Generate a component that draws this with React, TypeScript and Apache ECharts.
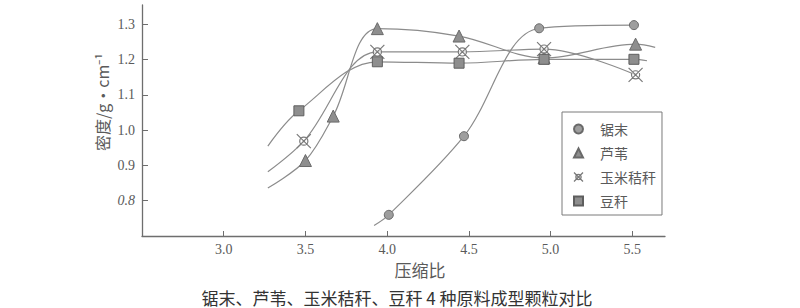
import React, { useEffect, useRef } from "react";
import * as echarts from "echarts";

// Density of pellets vs. compression ratio for four raw materials.
// Each series: [compression ratio, density]; the first/last entries of some
// series are curve ends without a marker.
const seriesNames = ["锯末", "芦苇", "玉米秸秆", "豆秆"];

const sawdust: [number, number][] = [
  [3.92, 0.73],
  [4.01, 0.76],
  [4.47, 0.983],
  [4.93, 1.289],
  [5.51, 1.298],
];
const reed: [number, number][] = [
  [3.27, 0.836],
  [3.5, 0.914],
  [3.67, 1.04],
  [3.94, 1.288],
  [4.44, 1.267],
  [4.96, 1.205],
  [5.52, 1.244],
  [5.64, 1.235],
];
const cornStalk: [number, number][] = [
  [3.27, 0.882],
  [3.49, 0.969],
  [3.94, 1.222],
  [4.46, 1.222],
  [4.96, 1.23],
  [5.52, 1.157],
];
const beanStalk: [number, number][] = [
  [3.27, 0.955],
  [3.46, 1.055],
  [3.94, 1.194],
  [4.44, 1.19],
  [4.96, 1.201],
  [5.51, 1.201],
  [5.59, 1.197],
];

// Which points of each series are bare curve ends (no marker)
const openEnds: Record<string, number[]> = {
  锯末: [0],
  芦苇: [0, 7],
  玉米秸秆: [0],
  豆秆: [0, 6],
};

const xTicks = [3.0, 3.5, 4.0, 4.5, 5.0, 5.5];
const yTicks = [0.8, 0.9, 1.0, 1.1, 1.2, 1.3];

const crossCircle =
  "path://M0,0L24,24M24,0L0,24M19,12A7,7,0,1,1,5,12A7,7,0,1,1,19,12ZM13,12A1,1,0,1,1,11,12A1,1,0,1,1,13,12Z";

const LINE = "#8c8c8c";
const TEXT = "#5a5a5a";
const SERIF = "'Liberation Serif', 'DejaVu Serif', serif";
const CJK = "'Noto Sans CJK SC', sans-serif";

function toData(name: string, pts: [number, number][]) {
  const ends = openEnds[name] || [];
  return pts.map((p, i) =>
    ends.includes(i) ? { value: p, symbol: "none" } : { value: p }
  );
}

export default function App() {
  const ref = useRef<HTMLDivElement>(null);

  useEffect(() => {
    if (!ref.current) return;
    const chart = echarts.init(ref.current, null, { renderer: "svg" });

    const base = {
      type: "line",
      smooth: 0.35,
      lineStyle: { color: LINE, width: 1.2 },
      emphasis: { disabled: true },
    };

    chart.setOption({
      animation: false,
      backgroundColor: "#ffffff",
      grid: { left: 142, right: 135, top: 5, bottom: 72, containLabel: false },
      xAxis: {
        type: "value",
        min: 2.5,
        max: 5.7,
        splitLine: { show: false },
        axisLine: { lineStyle: { color: "#6e6e6e", width: 1.3 } },
        axisTick: {
          inside: true,
          length: 5,
          customValues: xTicks,
          lineStyle: { color: "#6e6e6e" },
        },
        axisLabel: {
          customValues: xTicks,
          formatter: (v: number) => v.toFixed(1),
          color: TEXT,
          fontFamily: SERIF,
          fontSize: 14,
          margin: 6,
        },
      },
      yAxis: {
        type: "value",
        min: 0.7,
        max: 1.355,
        splitLine: { show: false },
        axisLine: { show: true, lineStyle: { color: "#6e6e6e", width: 1.3 } },
        axisTick: {
          inside: true,
          length: 6,
          customValues: yTicks,
          lineStyle: { color: "#6e6e6e" },
        },
        axisLabel: {
          customValues: yTicks,
          formatter: (v: number) =>
            Math.abs(v - 0.8) < 1e-6 ? "{i|0.8}" : v.toFixed(1),
          color: TEXT,
          fontFamily: SERIF,
          fontSize: 14,
          margin: 7,
          rich: {
            i: { fontStyle: "italic", color: TEXT, fontFamily: SERIF, fontSize: 14 },
          },
        },
      },
      legend: {
        orient: "vertical",
        left: 562,
        top: 112,
        padding: [9, 6, 6, 11],
        itemGap: 8,
        itemWidth: 9,
        itemHeight: 9,
        borderColor: "#7a7a7a",
        borderWidth: 1,
        selectedMode: false,
        textStyle: {
          color: TEXT,
          fontFamily: CJK,
          fontSize: 14,
          padding: [0, 0, 0, 12],
          lineHeight: 16,
        },
        data: [
          { name: seriesNames[0], icon: "circle" },
          { name: seriesNames[1], icon: "triangle" },
          { name: seriesNames[2], icon: crossCircle, itemStyle: { borderWidth: 1.3 } },
          { name: seriesNames[3], icon: "rect" },
        ],
      },
      series: [
        {
          ...base,
          name: seriesNames[0],
          symbol: "circle",
          symbolSize: 9,
          itemStyle: { color: "#9e9e9e", borderColor: "#6a6a6a", borderWidth: 1 },
          data: toData(seriesNames[0], sawdust),
        },
        {
          ...base,
          name: seriesNames[1],
          symbol: "triangle",
          symbolSize: 12,
          itemStyle: { color: "#8e8e8e", borderColor: "#6a6a6a", borderWidth: 1 },
          data: toData(seriesNames[1], reed),
        },
        {
          ...base,
          name: seriesNames[2],
          symbol: crossCircle,
          symbolSize: 14,
          itemStyle: {
            color: "rgba(255,255,255,0.7)",
            borderColor: "#7a7a7a",
            borderWidth: 1.2,
          },
          data: toData(seriesNames[2], cornStalk),
        },
        {
          ...base,
          name: seriesNames[3],
          symbol: "rect",
          symbolSize: 10,
          itemStyle: { color: "#8e8e8e", borderColor: "#5e5e5e", borderWidth: 1 },
          data: toData(seriesNames[3], beanStalk),
        },
      ],
      graphic: [
        {
          type: "text",
          x: 102,
          y: 102,
          rotation: Math.PI / 2,
          style: {
            text: "密度/g·cm⁻¹",
            fill: TEXT,
            font: `16px ${CJK}`,
            align: "center",
            verticalAlign: "middle",
          },
        },
        {
          type: "text",
          x: 420,
          y: 269,
          style: {
            text: "压缩比",
            fill: TEXT,
            font: `17px ${CJK}`,
            align: "center",
            verticalAlign: "middle",
          },
        },
        {
          type: "text",
          x: 397,
          y: 297,
          style: {
            text: "锯末、芦苇、玉米秸秆、豆秆 4 种原料成型颗粒对比",
            fill: "#333333",
            font: `17px ${CJK}`,
            align: "center",
            verticalAlign: "middle",
          },
        },
      ],
    });

    return () => chart.dispose();
  }, []);

  return (
    <div
      ref={ref}
      style={{ width: 800, height: 308, position: "absolute", left: 0, top: 0 }}
    />
  );
}
